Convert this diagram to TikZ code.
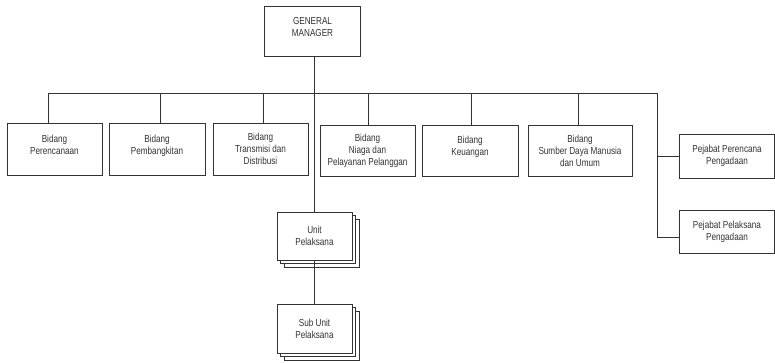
\documentclass[tikz,border=0pt]{standalone}
\usepackage{fontspec}
\setmainfont{Liberation Sans}[FakeStretch=0.8]
\usetikzlibrary{shadows}
\begin{document}
\begin{tikzpicture}[x=1pt,y=-1pt,
  box/.style={draw=black!80,line width=0.9pt,fill=white,align=center,inner sep=1pt,
    font=\fontsize{10.2}{12}\selectfont,text=black!80},
  stack/.style={box,double copy shadow={shadow xshift=3.5pt,shadow yshift=-3.5pt,draw=black!80,fill=white,line width=0.9pt}},
  conn/.style={draw=black!80,line width=0.9pt}]
\useasboundingbox (0,0) rectangle (775,362);
\node[box,minimum width=96pt,minimum height=50pt] (gm) at (312.5,31) {GENERAL\\MANAGER\\[-4pt]};
\node[box,minimum width=95pt,minimum height=52pt] (b1) at (54.5,149) {Bidang\\Perencanaan\\[-3pt]};
\node[box,minimum width=96pt,minimum height=52pt] (b2) at (157,149) {Bidang\\Pembangkitan\\[-3pt]};
\node[box,minimum width=95pt,minimum height=52pt] (b3) at (260.5,149) {Bidang\\Transmisi dan\\Distribusi};
\node[box,minimum width=95pt,minimum height=51pt] (b4) at (367.5,150.5) {Bidang\\Niaga dan\\Pelayanan Pelanggan};
\node[box,minimum width=96pt,minimum height=51pt] (b5) at (470,150.5) {Bidang\\Keuangan\\[-3pt]};
\node[box,minimum width=104pt,minimum height=51pt] (b6) at (580,150.5) {Bidang\\Sumber Daya Manusia\\dan Umum};
\node[box,minimum width=95pt,minimum height=44pt] (pp) at (727,156) {Pejabat Perencana\\Pengadaan};
\node[box,minimum width=95pt,minimum height=43pt] (pl) at (727,231.5) {Pejabat Pelaksana\\Pengadaan};
\node[stack,minimum width=75pt,minimum height=48pt] (unit) at (314.5,236) {Unit\\Pelaksana};
\node[stack,minimum width=75pt,minimum height=49pt] (sub) at (314.5,328.5) {Sub Unit\\Pelaksana};
\coordinate (busL) at (48,93);
\coordinate (busR) at (657,93);
\draw[conn] (busL) -- (busR);
\draw[conn] (gm.south) ++(1.5,0) coordinate (gmx) -- (gmx |- unit.north);
\draw[conn] (busL) -- (busL |- b1.north);
\foreach \b/\dx in {b2/3,b3/2.5,b4/0.5,b5/1,b6/-2}{
  \draw[conn] ([xshift=\dx pt]\b.north) -- ([xshift=\dx pt]\b.north |- busL);
}
\draw[conn] (busR) -- (busR |- pp.west) -- (pp.west);
\draw[conn] (busR |- pp.west) |- ([yshift=-5.5pt]pl.west);
\draw[conn] (unit.south) -- (sub.north);
\end{tikzpicture}
\end{document}
